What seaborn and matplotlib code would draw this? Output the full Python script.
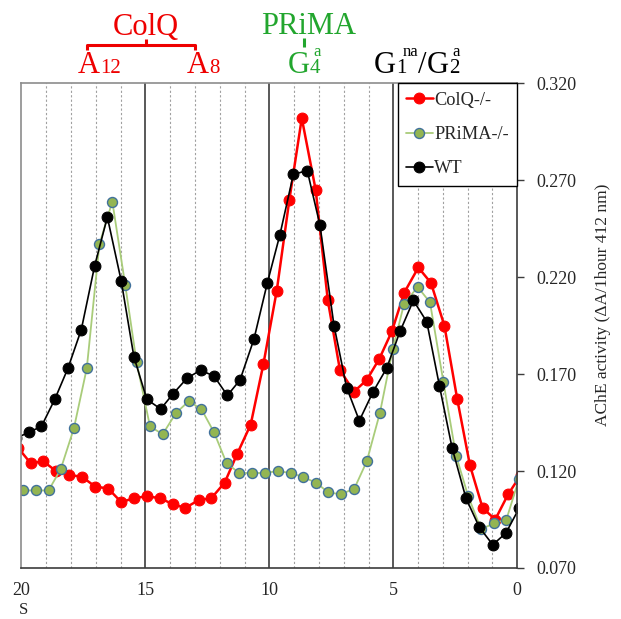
import matplotlib
matplotlib.use("Agg")
import matplotlib.pyplot as plt
from matplotlib.lines import Line2D
import pandas as pd
import seaborn as sns

# Sedimentation profiles: fraction position (S) and AChE activity per genotype
colq_s = [20.13, 19.62, 19.11, 18.60, 18.06, 17.55, 17.02, 16.50, 15.97, 15.46,
          14.94, 14.41, 13.90, 13.39, 12.85, 12.34, 11.80, 11.29, 10.75, 10.24,
          9.70, 9.19, 8.69, 8.13, 7.64, 7.15, 6.58, 6.07, 5.56, 5.06,
          4.56, 3.99, 3.48, 2.94, 2.42, 1.91, 1.40, 0.89, 0.37, -0.14]
colq_act = [0.132, 0.124, 0.125, 0.120, 0.118, 0.117, 0.112, 0.111, 0.104, 0.106,
            0.107, 0.106, 0.103, 0.101, 0.105, 0.106, 0.114, 0.129, 0.144, 0.175,
            0.213, 0.260, 0.302, 0.265, 0.208, 0.172, 0.161, 0.167, 0.178, 0.192,
            0.212, 0.225, 0.217, 0.195, 0.157, 0.123, 0.101, 0.095, 0.108, 0.118]

prima_s = [19.94, 19.41, 18.90, 18.41, 17.88, 17.36, 16.85, 16.33, 15.81, 15.35,
           14.81, 14.30, 13.76, 13.25, 12.74, 12.23, 11.72, 11.21, 10.70, 10.19,
           9.65, 9.14, 8.65, 8.12, 7.62, 7.11, 6.57, 6.07, 5.54, 5.02,
           4.57, 4.02, 3.52, 2.98, 2.47, 1.98, 1.46, 0.95, 0.44, -0.07]
prima_act = [0.110, 0.110, 0.110, 0.121, 0.142, 0.173, 0.237, 0.259, 0.216, 0.176,
             0.143, 0.139, 0.150, 0.156, 0.152, 0.140, 0.124, 0.119, 0.119, 0.119,
             0.120, 0.119, 0.117, 0.114, 0.109, 0.108, 0.111, 0.125, 0.150, 0.183,
             0.206, 0.215, 0.207, 0.166, 0.128, 0.107, 0.090, 0.093, 0.095, 0.116]

wt_s = [20.20, 19.70, 19.19, 18.65, 18.12, 17.58, 17.04, 16.53, 15.97, 15.46,
        14.94, 14.38, 13.87, 13.31, 12.77, 12.23, 11.69, 11.18, 10.62, 10.08,
        9.57, 9.03, 8.47, 7.96, 7.39, 6.88, 6.37, 5.81, 5.27, 4.73,
        4.19, 3.65, 3.14, 2.63, 2.07, 1.53, 0.99, 0.46, -0.08]
wt_act = [0.137, 0.140, 0.143, 0.157, 0.173, 0.193, 0.226, 0.251, 0.218, 0.179,
          0.157, 0.152, 0.160, 0.168, 0.172, 0.169, 0.159, 0.167, 0.188, 0.217,
          0.242, 0.273, 0.275, 0.247, 0.195, 0.163, 0.146, 0.161, 0.173, 0.192,
          0.208, 0.197, 0.164, 0.132, 0.106, 0.091, 0.082, 0.088, 0.101]

y_ticks = [0.070, 0.120, 0.170, 0.220, 0.270, 0.320]
x_ticks = [20, 15, 10, 5, 0]

sns.set_style("white")
plt.rcParams["font.family"] = ["Liberation Serif", "DejaVu Serif"]

W, H = 621, 619
fig = plt.figure(figsize=(W / 100, H / 100), dpi=100)
ax = fig.add_axes([21.3 / W, 1 - 568 / H, (517.3 - 21.3) / W, (568 - 83.3) / H])

# fraction grid: dotted every unit, solid every 5 S
for v in range(1, 20):
    if v % 5:
        ax.axvline(v, color="#a0a0a0", ls=(0, (2, 2)), lw=0.8, zorder=0)
    else:
        ax.axvline(v, color="#3c3c3c", lw=1.2, zorder=0)

series = [
    ("ColQ-/-", colq_s, colq_act, dict(color="#ff0000", lw=1.8, markersize=7.8,
                                       markerfacecolor="#ff0000", markeredgecolor="#ff0000")),
    ("PRiMA-/-", prima_s, prima_act, dict(color="#a9cc7a", lw=1.3, markersize=7.2,
                                          markerfacecolor="#93b552", markeredgecolor="#41719c",
                                          markeredgewidth=1.0)),
    ("WT", wt_s, wt_act, dict(color="#000000", lw=1.2, markersize=7.8,
                              markerfacecolor="#000000", markeredgecolor="#000000")),
]
for name, s, act, style in series:
    df = pd.DataFrame({"S": s, "activity": act})
    sns.lineplot(data=df, x="S", y="activity", ax=ax, sort=False, estimator=None,
                 marker="o", label=name, **style)

ax.set_xlim(20, 0)
ax.set_ylim(0.070, 0.320)
ax.set_xticks(x_ticks)
ax.set_xticklabels([str(t) for t in x_ticks], fontsize=13)
ax.yaxis.tick_right()
ax.set_yticks(y_ticks)
ax.set_yticklabels([f"{t:.3f}" for t in y_ticks], fontsize=13)
ax.tick_params(axis="x", direction="out", length=4, width=1, color="#3c3c3c", pad=6)
ax.tick_params(axis="y", direction="out", length=5, width=1, color="#3c3c3c", pad=9)
ax.set_xlabel("")
ax.set_ylabel("")

for side in ("left", "top"):
    ax.spines[side].set_color("#8c8c8c")
    ax.spines[side].set_linewidth(1.2)
for side in ("right", "bottom"):
    ax.spines[side].set_color("#3c3c3c")
    ax.spines[side].set_linewidth(1.2)

leg = ax.legend(loc="upper right", bbox_to_anchor=(1.0, 1.0), borderaxespad=0,
                frameon=True, fancybox=False, edgecolor="black", framealpha=1,
                fontsize=13.2, handlelength=1.45, handletextpad=0.1,
                labelspacing=0.95, borderpad=0.45)
leg.get_frame().set_linewidth(1.0)

# axis titles
fig.text(603 / W, 1 - 305 / H, "AChE activity (\u0394A/1hour 412 nm)", rotation=90,
         ha="center", va="center", fontsize=12.5)
fig.text(24 / W, 1 - 610 / H, "S", ha="center", va="center", fontsize=12)

# molecular form labels above the plot
RED = "#ee0000"
GREEN = "#22a62e"


def put(x, y, s, size, color, ha="left"):
    fig.text(x / W, 1 - y / H, s, fontsize=size, color=color, ha=ha, va="baseline")


def seg(xs, ys, color, lw=2.2):
    fig.add_artist(Line2D([x / W for x in xs], [1 - y / H for y in ys],
                          color=color, lw=lw, solid_capstyle="butt"))


put(146, 35, "ColQ", 22, RED, ha="center")
seg([87, 87, 195, 195], [50, 45, 45, 50], RED)
seg([146, 146], [45, 39], RED)
put(78, 73, "A", 22, RED)
put(100, 73, "12", 15, RED)
put(187, 73, "A", 22, RED)
put(209, 73, "8", 15, RED)

put(309, 34, "PRiMA", 22, GREEN, ha="center")
seg([304, 304], [38, 47], GREEN)
put(288, 73, "G", 22, GREEN)
put(310, 73, "4", 15, GREEN)
put(313, 56, "a", 12, GREEN)

put(374, 73, "G", 22, "black")
put(396, 73, "1", 15, "black")
put(403, 56, "na", 12, "black")
put(418, 73, "/", 22, "black")
put(427, 73, "G", 22, "black")
put(449, 73, "2", 15, "black")
put(452, 56, "a", 12, "black")

fig.savefig("out.png", dpi=100)
